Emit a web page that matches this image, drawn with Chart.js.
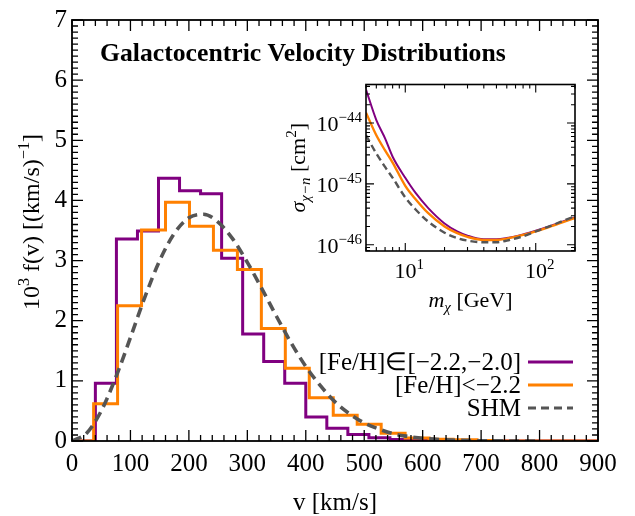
<!DOCTYPE html>
<html>
<head>
<meta charset="utf-8">
<script src="https://cdn.jsdelivr.net/npm/chart.js@4.4.1/dist/chart.umd.min.js"></script>
<style>
  html, body { margin: 0; padding: 0; background: #fff; }
  #wrap { position: relative; width: 635px; height: 516px; }
  #main { position: absolute; left: 0; top: 0; }
  #inset { position: absolute; left: 280px; top: 70px; }
</style>
</head>
<body>
<div id="wrap">
  <canvas id="main" width="635" height="516"></canvas>
  <canvas id="inset" width="305" height="250"></canvas>
</div>
<script>
// histogram bin edges (km/s) and heights (10^3 f(v))
const metalEdges = [40, 76, 112, 148, 184, 220, 256, 292, 328, 364, 400, 436, 472, 508, 544, 580, 616, 652, 688, 724];
const metalValues = [0.96, 3.36, 3.49, 4.37, 4.16, 4.11, 3.04, 1.78, 1.32, 0.96, 0.40, 0.21, 0.11, 0.055, 0.025, 0.015, 0.01, 0.01, 0.005];
const poorEdges = [37, 78, 119, 160, 201, 242, 283, 324, 365, 406, 447, 488, 529, 570, 611, 652, 693, 734];
const poorValues = [0.62, 2.25, 3.51, 3.97, 3.57, 3.17, 2.85, 1.87, 1.21, 0.72, 0.43, 0.28, 0.13, 0.05, 0.03, 0.02, 0.01];

// SHM curve
const shmV = [0, 25, 50, 75, 100, 125, 150, 175, 200, 225, 250, 275, 300, 325, 350, 375, 400, 425, 450, 475, 500, 525, 550, 575, 600, 650, 700, 750, 800];
const shmF = [0, 0.13, 0.50, 1.06, 1.72, 2.40, 3.00, 3.45, 3.71, 3.77, 3.64, 3.36, 2.97, 2.53, 2.07, 1.63, 1.24, 0.92, 0.65, 0.45, 0.30, 0.20, 0.12, 0.076, 0.045, 0.015, 0.004, 0.001, 0.0002];

// inset: cross section limits vs DM mass
const massGeV = [5, 6, 7, 8, 10, 12, 15, 20, 25, 30, 40, 50, 60, 80, 100, 130, 160, 200];
const sigmaMetal = [3.55e-44, 1.12e-44, 5.6e-45, 2.8e-45, 1.26e-45, 7.1e-46, 4.0e-46, 2.24e-46, 1.66e-46, 1.41e-46, 1.23e-46, 1.23e-46, 1.29e-46, 1.48e-46, 1.70e-46, 2.04e-46, 2.40e-46, 2.82e-46];
const sigmaPoor = [1.48e-44, 6.3e-45, 3.55e-45, 2.24e-45, 9.3e-46, 5.6e-46, 3.3e-46, 2.0e-46, 1.55e-46, 1.35e-46, 1.20e-46, 1.20e-46, 1.26e-46, 1.45e-46, 1.66e-46, 2.0e-46, 2.34e-46, 2.75e-46];
const sigmaShm = [6.3e-45, 3.16e-45, 1.9e-45, 1.26e-45, 6.0e-46, 3.8e-46, 2.4e-46, 1.58e-46, 1.29e-46, 1.17e-46, 1.10e-46, 1.10e-46, 1.17e-46, 1.38e-46, 1.66e-46, 2.04e-46, 2.45e-46, 2.95e-46];

const xTicksInset = [10, 100];
const xTickExp = ['1', '2'];
const yTicksInset = [1e-44, 1e-45, 1e-46];
const yTickExp = ['\u221244', '\u221245', '\u221246'];

const legendLabels = ['[Fe/H]\u2208[\u22122.2,\u22122.0]', '[Fe/H]<\u22122.2', 'SHM'];

const purple = '#800080';
const orange = '#ff8000';
const grey = '#555555';
const serif = "'Liberation Serif', 'Times New Roman', serif";

// histogram -> step points (value of bin i ends at its right edge)
function steps(edges, vals) {
  const pts = [{x: 0, y: 0}, {x: edges[0], y: 0}];
  vals.forEach((v, i) => pts.push({x: edges[i + 1], y: v}));
  pts.push({x: 900, y: 0});
  return pts;
}

// text with super/subscripts
function fontFor(p, size) {
  const s = (p.sup || p.sub) ? size * 0.68 : size;
  return (p.it ? 'italic ' : '') + (p.bold ? 'bold ' : '') + s + 'px ' + serif;
}
function drawRich(ctx, parts, x, y, size, align) {
  parts = parts.map(p => typeof p === 'string' ? {t: p} : p);
  let w = 0;
  parts.forEach(p => { ctx.font = fontFor(p, size); p.w = ctx.measureText(p.t).width; w += p.w; });
  let cx = align === 'right' ? x - w : align === 'center' ? x - w / 2 : x;
  ctx.textAlign = 'left';
  ctx.textBaseline = 'alphabetic';
  parts.forEach(p => {
    ctx.font = fontFor(p, size);
    const dy = p.sup ? -size * 0.42 : p.sub ? size * 0.22 : 0;
    ctx.fillText(p.t, cx, y + dy);
    cx += p.w;
  });
}

const mainDecor = {
  id: 'mainDecor',
  afterDatasetsDraw(chart) {
    const {ctx, chartArea: {left, right, top, bottom}, scales: {x, y}} = chart;
    ctx.save();
    ctx.strokeStyle = '#000';
    ctx.lineWidth = 1.3;
    ctx.beginPath();
    for (let v = 0; v <= 900; v += 20) {
      const px = x.getPixelForValue(v);
      const len = v % 100 === 0 ? 11 : 6;
      ctx.moveTo(px, bottom); ctx.lineTo(px, bottom - len);
      ctx.moveTo(px, top); ctx.lineTo(px, top + len);
    }
    for (let i = 0; i <= 70; i++) {
      const py = y.getPixelForValue(i / 10);
      const len = i % 10 === 0 ? 11 : 6;
      ctx.moveTo(left, py); ctx.lineTo(left + len, py);
      ctx.moveTo(right, py); ctx.lineTo(right - len, py);
    }
    ctx.stroke();
    ctx.lineWidth = 1.8;
    ctx.strokeRect(left, top, right - left, bottom - top);

    ctx.fillStyle = '#000';
    // title
    drawRich(ctx, [{t: 'Galactocentric Velocity Distributions', bold: true}], 100, 61, 25.7, 'left');
    // axis titles
    drawRich(ctx, ['v [km/s]'], (left + right) / 2, 510, 25, 'center');
    ctx.save();
    ctx.translate(39, 222);
    ctx.rotate(-Math.PI / 2);
    drawRich(ctx, ['10', {t: '3', sup: true}, ' f(v) [(km/s)', {t: '\u22121', sup: true}, ']'], 0, 0, 24, 'center');
    ctx.restore();

    // legend
    const cols = [purple, orange, grey];
    const rowsY = [362, 385, 408];
    legendLabels.forEach((lab, i) => {
      drawRich(ctx, [lab], 521, rowsY[i] + 8, 25, 'right');
      ctx.beginPath();
      ctx.strokeStyle = cols[i];
      ctx.lineWidth = 3.2;
      ctx.setLineDash(i === 2 ? [8, 5] : []);
      ctx.moveTo(528, rowsY[i]);
      ctx.lineTo(573, rowsY[i]);
      ctx.stroke();
    });
    ctx.restore();
  }
};

const insetDecor = {
  id: 'insetDecor',
  afterDatasetsDraw(chart) {
    const {ctx, chartArea: {left, right, top, bottom}, scales: {x, y}} = chart;
    ctx.save();
    ctx.strokeStyle = '#000';
    ctx.lineWidth = 1.1;
    ctx.beginPath();
    for (let e = 0; e <= 2; e++) {
      for (let m = 1; m <= 9; m++) {
        const v = m * Math.pow(10, e);
        if (v < x.min || v > x.max) continue;
        const px = x.getPixelForValue(v);
        const len = m === 1 ? 8 : 4;
        ctx.moveTo(px, bottom); ctx.lineTo(px, bottom - len);
        ctx.moveTo(px, top); ctx.lineTo(px, top + len);
      }
    }
    for (let e = -47; e <= -44; e++) {
      for (let m = 1; m <= 9; m++) {
        const v = m * Math.pow(10, e);
        if (v < y.min || v > y.max) continue;
        const py = y.getPixelForValue(v);
        const len = m === 1 ? 8 : 4;
        ctx.moveTo(left, py); ctx.lineTo(left + len, py);
        ctx.moveTo(right, py); ctx.lineTo(right - len, py);
      }
    }
    ctx.stroke();
    ctx.lineWidth = 1.6;
    ctx.strokeRect(left, top, right - left, bottom - top);

    ctx.fillStyle = '#000';
    xTicksInset.forEach((v, i) => {
      drawRich(ctx, ['10', {t: xTickExp[i], sup: true}], x.getPixelForValue(v) + 4, bottom + 27, 22, 'center');
    });
    yTicksInset.forEach((v, i) => {
      drawRich(ctx, ['10', {t: yTickExp[i], sup: true}], left - 4, y.getPixelForValue(v) + 8, 22, 'right');
    });
    drawRich(ctx, [{t: 'm', it: true}, {t: '\u03c7', it: true, sub: true}, ' [GeV]'], (left + right) / 2, bottom + 56, 22, 'center');
    ctx.save();
    ctx.translate(left - 61, (top + bottom) / 2);
    ctx.rotate(-Math.PI / 2);
    drawRich(ctx, [{t: '\u03c3', it: true}, {t: '\u03c7\u2212n', it: true, sub: true}, ' [cm', {t: '2', sup: true}, ']'], 0, 0, 22, 'center');
    ctx.restore();
    ctx.restore();
  }
};

new Chart(document.getElementById('main'), {
  type: 'line',
  data: {
    datasets: [
      {
        label: 'SHM',
        data: shmV.map((v, i) => ({x: v, y: shmF[i]})),
        borderColor: grey,
        borderWidth: 3.6,
        borderDash: [10, 6],
        pointRadius: 0,
        cubicInterpolationMode: 'monotone',
        fill: false
      },
      {
        label: legendLabels[1],
        data: steps(poorEdges, poorValues),
        borderColor: orange,
        borderWidth: 3,
        stepped: 'after',
        pointRadius: 0,
        fill: false
      },
      {
        label: legendLabels[0],
        data: steps(metalEdges, metalValues),
        borderColor: purple,
        borderWidth: 3,
        stepped: 'after',
        pointRadius: 0,
        fill: false
      }
    ]
  },
  options: {
    responsive: false,
    animation: false,
    layout: {padding: {top: 19, right: 37, left: 0, bottom: 0}},
    plugins: {legend: {display: false}, tooltip: {enabled: false}},
    scales: {
      x: {
        type: 'linear', min: 0, max: 900,
        grid: {display: false, drawTicks: false},
        border: {display: false},
        ticks: {stepSize: 100, autoSkip: false, maxRotation: 0, padding: 8, color: '#000', font: {family: serif, size: 25}},
        afterFit(s) { s.height = 75; }
      },
      y: {
        type: 'linear', min: 0, max: 7,
        grid: {display: false, drawTicks: false},
        border: {display: false},
        ticks: {stepSize: 1, padding: 5, color: '#000', font: {family: serif, size: 25}},
        afterFit(s) { s.width = 72; }
      }
    }
  },
  plugins: [mainDecor]
});

new Chart(document.getElementById('inset'), {
  type: 'line',
  data: {
    datasets: [
      {
        data: massGeV.map((m, i) => ({x: m, y: sigmaShm[i]})),
        borderColor: grey, borderWidth: 2.4, borderDash: [7, 4],
        pointRadius: 0, cubicInterpolationMode: 'monotone', fill: false
      },
      {
        data: massGeV.map((m, i) => ({x: m, y: sigmaPoor[i]})),
        borderColor: orange, borderWidth: 2.4,
        pointRadius: 0, cubicInterpolationMode: 'monotone', fill: false
      },
      {
        data: massGeV.map((m, i) => ({x: m, y: sigmaMetal[i]})),
        borderColor: purple, borderWidth: 2,
        pointRadius: 0, cubicInterpolationMode: 'monotone', fill: false
      }
    ]
  },
  options: {
    responsive: false,
    animation: false,
    layout: {padding: {left: 86, top: 14.5, right: 10, bottom: 69}},
    plugins: {legend: {display: false}, tooltip: {enabled: false}},
    scales: {
      x: {type: 'logarithmic', min: 5, max: 200, display: false},
      y: {type: 'logarithmic', min: 7.9e-47, max: 4.3e-44, display: false}
    }
  },
  plugins: [insetDecor]
});
</script>
</body>
</html>
